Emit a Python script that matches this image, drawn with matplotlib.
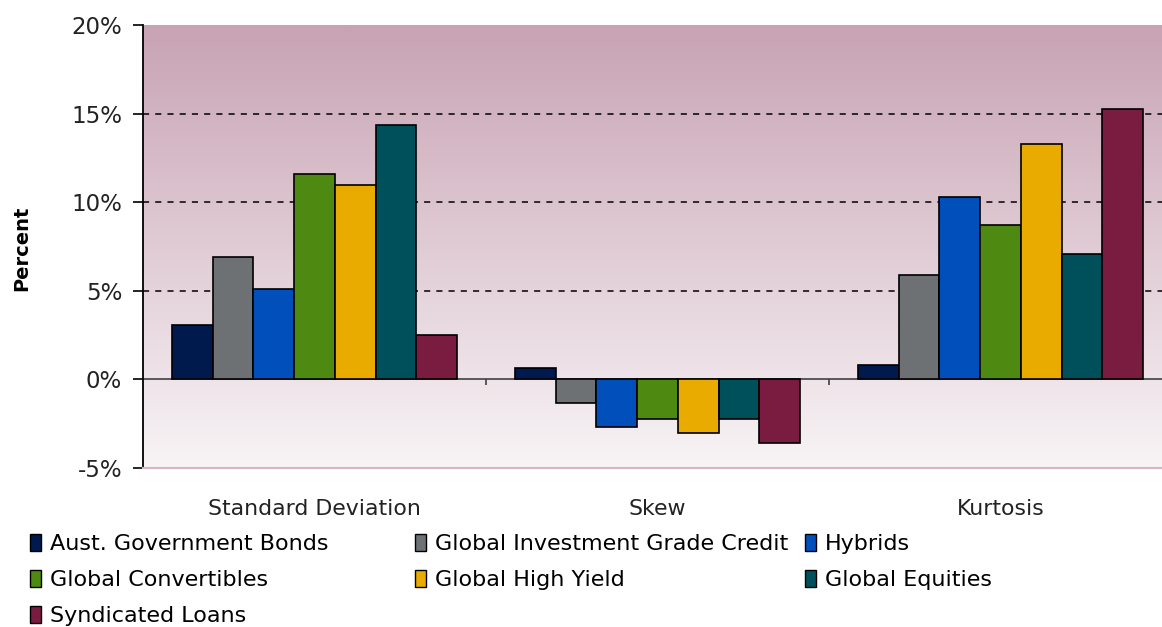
import numpy as np
import matplotlib
matplotlib.use("Agg")
import matplotlib.pyplot as plt
from matplotlib.colors import LinearSegmentedColormap
from matplotlib.patches import Patch

categories = ["Standard Deviation", "Skew", "Kurtosis"]
series_names = ["Aust. Government Bonds", "Global Investment Grade Credit", "Hybrids",
                "Global Convertibles", "Global High Yield", "Global Equities",
                "Syndicated Loans"]
aust_gov = [3.05, 0.65, 0.8]
global_ig_credit = [6.9, -1.35, 5.9]
hybrids = [5.1, -2.7, 10.3]
global_convertibles = [11.6, -2.25, 8.7]
global_high_yield = [10.95, -3.05, 13.3]
global_equities = [14.35, -2.25, 7.1]
syndicated_loans = [2.5, -3.6, 15.25]
yticks = [-5, 0, 5, 10, 15, 20]

values = [aust_gov, global_ig_credit, hybrids, global_convertibles,
          global_high_yield, global_equities, syndicated_loans]
colors = ["#001a4d", "#6d7174", "#004fbb", "#4e8a12", "#e9ab00", "#00505c", "#7a1c40"]

plt.rcParams['font.family'] = ['DejaVu Sans']

fig = plt.figure(figsize=(11.62, 6.27), dpi=100)
ax = fig.add_axes([143 / 1162, 159 / 627, 1029 / 1162, 443 / 627])

# gradient plot-area background
cmap = LinearSegmentedColormap.from_list("bg", ["#f8f4f6", "#c8a3b3"])
grad = np.linspace(0, 1, 256).reshape(-1, 1)
ax.imshow(grad, cmap=cmap, origin="lower", aspect="auto",
          extent=(-0.5, len(categories) - 0.5, yticks[0], yticks[-1]), zorder=0)

n = len(values)
group_w = 0.83
bw = group_w / n
x = np.arange(len(categories))
for i, (vals, c) in enumerate(zip(values, colors)):
    ax.bar(x - group_w / 2 + bw * (i + 0.5), vals, bw, color=c,
           edgecolor="black", linewidth=1.2, zorder=3, label=series_names[i])

for yv in yticks[2:-1]:
    ax.axhline(yv, color="black", linestyle=(0, (4, 4)), linewidth=1.1, zorder=1)
ax.axhline(0, color="#404040", linewidth=1.2, zorder=2)
# small category separator ticks on the zero line
bounds = np.arange(len(categories) + 1) - 0.5
ax.vlines(bounds[1:-1], -0.3, 0, color="#404040", linewidth=1.2, zorder=2)

ax.set_xlim(-0.5, len(categories) - 0.5)
ax.set_ylim(yticks[0], yticks[-1])
ax.set_yticks(yticks)
ax.set_yticklabels([f"{v}%" for v in yticks], fontsize=16.5, color="#222222")
ax.set_xticks(x)
ax.set_xticklabels(categories, fontsize=15.8, color="#222222")
ax.tick_params(axis="x", length=0, pad=22)
ax.tick_params(axis="y", length=7, width=1.2, direction="out", pad=8)

for side in ["top", "right"]:
    ax.spines[side].set_visible(False)
ax.spines["left"].set_color("black")
ax.spines["left"].set_linewidth(1.3)
ax.spines["bottom"].set_color("#d9b5c3")
ax.spines["bottom"].set_linewidth(1.5)

fig.text(22 / 1162, 1 - 248 / 627, "Percent", rotation=90, fontsize=14,
         fontweight="bold", ha="center", va="center")

handles = [Patch(facecolor=c, edgecolor="black", linewidth=1.0) for c in colors]
columns = [[0, 3, 6], [1, 4], [2, 5]]
col_x = [30, 415, 805]
for cols, cx in zip(columns, col_x):
    fig.legend([handles[k] for k in cols], [series_names[k] for k in cols],
               loc="upper left", bbox_to_anchor=(cx / 1162, 1 - 534 / 627),
               frameon=False, fontsize=16, handlelength=0.5, handleheight=0.8,
               handletextpad=0.4, labelspacing=0.7, borderaxespad=0,
               borderpad=0)

fig.savefig("out.png", dpi=100)
